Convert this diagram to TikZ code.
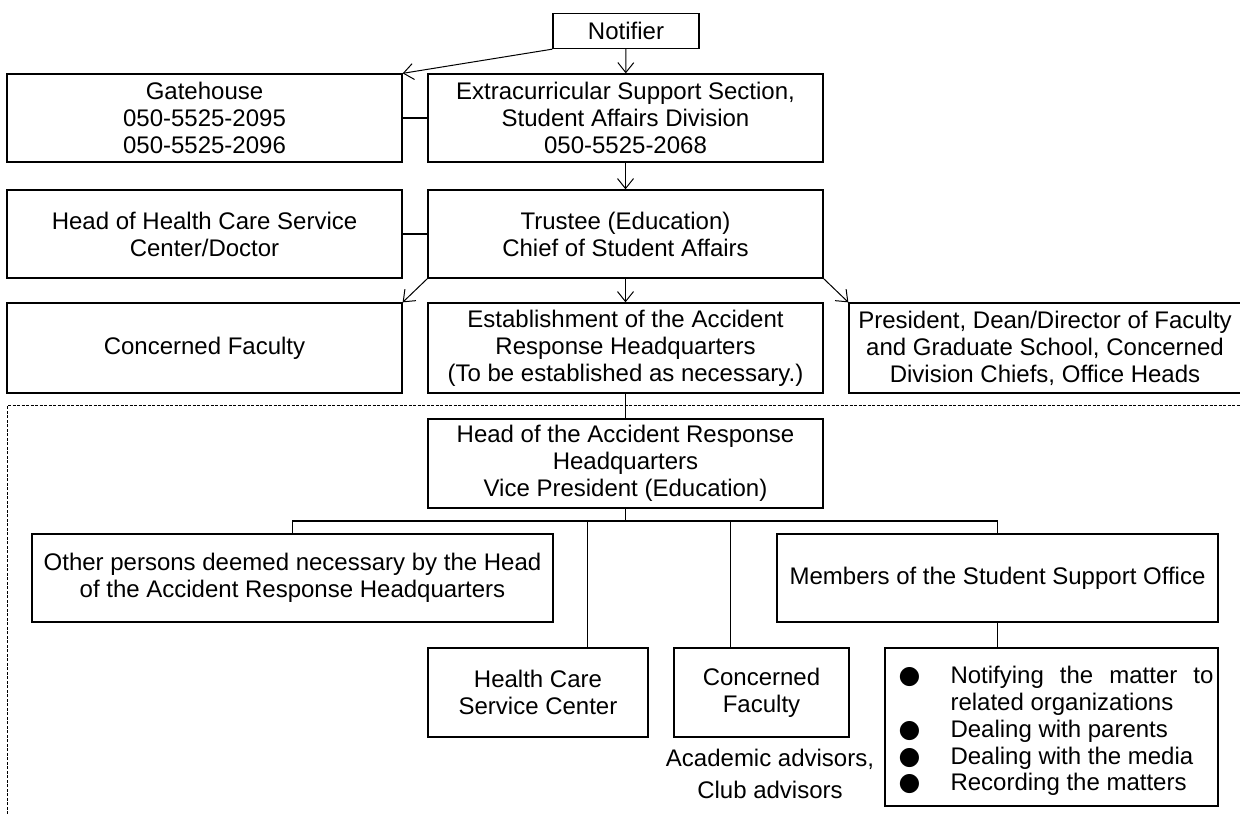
\documentclass[tikz,border=0pt]{standalone}
\usepackage{fontspec}
\setmainfont{Liberation Sans}
\newfontfamily\symfont{DejaVu Sans}
\usetikzlibrary{positioning,calc,arrows.meta}

\tikzset{
  box/.style={draw, line width=1.3pt, align=center, inner sep=0pt,
    font=\fontsize{24pt}{27pt}\selectfont},
  flow/.style={-{Straight Barb[length=10pt,width=16pt]}, line width=1pt},
  link/.style={line width=1.2pt},
  scopeline/.style={line width=0.9pt, dash pattern=on 3pt off 1.5pt},
}
\newcommand{\dotitem}[1]{\noindent\hangindent=61pt\hangafter=0%
  \llap{\makebox[61pt][l]{\hspace{9pt}{\symfont\fontsize{25pt}{25pt}\selectfont ●}}}#1\par}

\begin{document}
\begin{tikzpicture}[x=1pt,y=-1pt]
    \useasboundingbox (0,0) rectangle (1240,814);
    % Reporting
    \node[box, minimum width=146pt, minimum height=35pt] (notifier) at (626,31) {Notifier};
    \node[box, minimum width=395pt, minimum height=88pt] (gate) at (204.5,118) {Gatehouse\\050-5525-2095\\050-5525-2096};
    \node[box, minimum width=395pt, minimum height=88pt] (extra) at (625.5,118) {Extracurricular Support Section,\\Student Affairs Division\\050-5525-2068};
    \node[box, minimum width=395pt, minimum height=88pt] (hhead) at (204.5,234) {Head of Health Care Service\\Center/Doctor};
    \node[box, minimum width=395pt, minimum height=88pt] (trustee) at (625.5,234) {Trustee (Education)\\Chief of Student Affairs};
    \node[box, minimum width=395pt, minimum height=90pt] (cfac) at (204.5,348) {Concerned Faculty};
    \node[box, minimum width=395pt, minimum height=90pt] (estab) at (625.5,348) {Establishment of the Accident\\Response Headquarters\\(To be established as necessary.)};
    \node[box, minimum width=392pt, minimum height=90pt] (pres) at (1045,348) {President, Dean/Director of Faculty\\and Graduate School, Concerned\\Division Chiefs, Office Heads};

    \draw[flow] (notifier.south west) -- (gate.north east);
    \draw[flow] (notifier) -- (extra);
    \draw[link] (gate) -- (extra);
    \draw[flow] (extra) -- (trustee);
    \draw[link] (hhead) -- (trustee);
    \draw[flow] (trustee.south west) -- (cfac.north east);
    \draw[flow] (trustee) -- (estab);
    \draw[flow] (trustee.south east) -- (pres.north west);

    % Headquarters
    \draw[scopeline] (7,814) -- (7,405.5) -- (1240,405.5);
    \node[box, minimum width=395pt, minimum height=89pt] (head) at (625.5,463.5) {Head of the Accident Response\\Headquarters\\Vice President (Education)};
    \node[box, minimum width=521pt, minimum height=88pt] (other) at (292.5,578) {Other persons deemed necessary by the Head\\of the Accident Response Headquarters};
    \node[box, minimum width=441pt, minimum height=88pt] (members) at (997.5,578) {Members of the Student Support Office};
    \node[box, minimum width=220pt, minimum height=89pt] (health) at (538,692.5) {Health Care\\Service Center};
    \node[box, minimum width=175pt, minimum height=89pt] (cfacb) at (761.5,692.5) {Concerned\\Faculty};
    % duty list: frame, then its text
    \node[box, minimum width=333pt, minimum height=158pt] (duties) at (1051.5,727) {};
    \node[align=justify, text width=324pt, inner sep=0pt,
      font=\fontsize{24pt}{26.8pt}\selectfont] (dutylist) at ([yshift=-4pt]duties.center)
      {\hyphenpenalty=10000
       \dotitem{Notifying the matter to related organizations}
       \dotitem{Dealing with parents}
       \dotitem{Dealing with the media}
       \dotitem{Recording the matters}};
    \node[align=center, inner sep=0pt, font=\fontsize{24pt}{32pt}\selectfont] (advisors) at (770,774) {Academic advisors,\\Club advisors};

    \coordinate (bus) at (625.5,521);
    \draw[link] (estab) -- (head);
    \draw[link] (head) -- (bus);
    \draw[link] (other.north) |- (bus) -| (members.north);
    \draw[link] ([xshift=160pt]health.north west) |- (bus);
    \draw[link] ([xshift=57pt]cfacb.north west) |- (bus);
    \draw[link] (members.south) -- (members.south |- duties.north);
\end{tikzpicture}
\end{document}
